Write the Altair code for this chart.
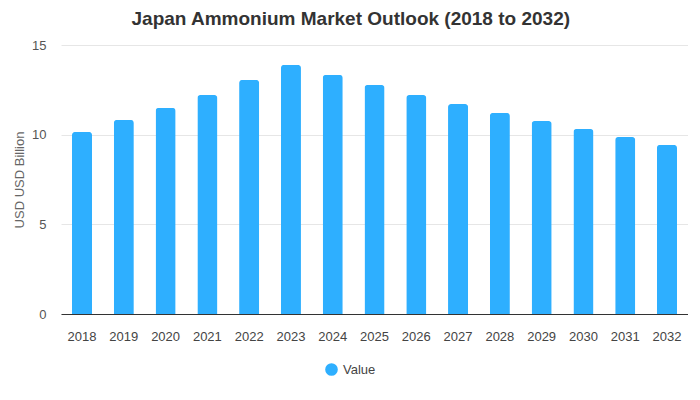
import altair as alt
import pandas as pd

years = ["2018", "2019", "2020", "2021", "2022", "2023", "2024", "2025",
         "2026", "2027", "2028", "2029", "2030", "2031", "2032"]
values = [10.15, 10.82, 11.49, 12.21, 13.05, 13.89, 13.33, 12.77,
          12.21, 11.71, 11.21, 10.76, 10.32, 9.87, 9.43]
series = ["Value"] * len(years)

df = pd.DataFrame({"Year": years, "Value": values, "Series": series})

chart = alt.Chart(df).mark_bar(
    cornerRadiusTopLeft=3, cornerRadiusTopRight=3
).encode(
    x=alt.X("Year:N", sort=years, title=None,
            scale=alt.Scale(paddingInner=0.52, paddingOuter=0.263),
            axis=alt.Axis(labelAngle=0, ticks=False, domainColor="#333333",
                          labelColor="#444444", labelFontSize=13,
                          labelFont="Liberation Sans", labelPadding=16,
                          grid=False)),
    y=alt.Y("Value:Q", title="USD USD Billion",
            scale=alt.Scale(domain=[0, 15]),
            axis=alt.Axis(values=[0, 5, 10, 15], ticks=False, domain=False,
                          labelColor="#555555", labelFontSize=13,
                          labelFont="Liberation Sans", labelPadding=15,
                          titleColor="#666666", titleFontSize=13,
                          titleFont="Liberation Sans", titleFontWeight="normal",
                          titlePadding=5, gridColor="#e6e6e6")),
    color=alt.Color("Series:N", scale=alt.Scale(range=["#2eafff"]),
                    legend=alt.Legend(title=None, orient="none",
                                      legendX=263, legendY=317,
                                      symbolType="circle", symbolSize=160,
                                      labelFontSize=13, labelColor="#444444",
                                      labelFont="Liberation Sans"))
).properties(
    width=627, height=269,
    title=alt.TitleParams("Japan Ammonium Market Outlook (2018 to 2032)",
                          font="Liberation Sans", fontSize=19, fontWeight="bold",
                          color="#333333", offset=10, frame="bounds",
                          anchor="middle"),
    padding={"left": 5, "top": 2, "right": 0, "bottom": 5}
).configure_view(stroke=None)

chart.save("out.html", embed_options={"renderer": "svg", "actions": False})
